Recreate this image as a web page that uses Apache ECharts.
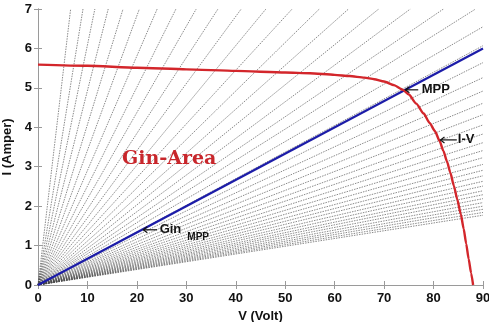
<!DOCTYPE html>
<html>
<head>
<meta charset="utf-8">
<script src="https://cdn.jsdelivr.net/npm/echarts@6/dist/echarts.min.js"></script>
<style>
html, body { margin: 0; padding: 0; background: #fff; }
#chart { width: 489px; height: 322px; }
</style>
</head>
<body>
<div id="chart"></div>
<script>
// PV array I-V curve
var ivVolt = [0, 10, 20, 30, 40, 50, 55, 60, 63, 66, 68, 70, 72, 73.8, 75, 76.5, 78, 79.2, 80.3,
              81.2, 82.0, 82.7, 83.4, 84.1, 84.8, 85.5, 86.1, 86.6, 87.1, 87.6, 88];
var ivAmp  = [5.59, 5.56, 5.51, 5.47, 5.43, 5.39, 5.37, 5.33, 5.30, 5.26, 5.22, 5.16, 5.07, 4.95, 4.83, 4.60, 4.35, 4.11, 3.90,
              3.66, 3.40, 3.14, 2.85, 2.52, 2.17, 1.80, 1.42, 1.05, 0.66, 0.30, 0];

// Gin_MPP line through the MPP
var ginVolt = [0, 90];
var ginAmp  = [0, 6.0];

// dotted conductance rays from the origin
// shallow rays: current where they leave the right edge (V = 90)
var rayRightAmp = [1.77, 1.84, 1.92, 2.00, 2.09, 2.19, 2.29, 2.39, 2.51, 2.63, 2.77, 2.91, 3.06,
                   3.23, 3.41, 3.61, 3.83, 4.06, 4.32, 4.61, 4.92, 5.26, 5.64, 6.07, 6.55];
// steep rays: voltage where they leave the top edge (I = 7)
var rayTopVolt = [88.5, 82.0, 75.3, 68.9, 62.8, 56.9, 51.4, 46.1, 41.1, 36.4, 32.0, 27.9, 24.1,
                  20.5, 17.2, 14.2, 11.5, 9.1, 6.6];

var xMin = 0, xMax = 90, xStep = 10;
var yMin = 0, yMax = 7, yStep = 1;

var chart = echarts.init(document.getElementById('chart'));

var rayStyle = { color: '#4a4a4a', width: 0.65, type: [1.5, 1.1] };
var series = [];
rayRightAmp.forEach(function (a) {
  series.push({ type: 'line', data: [[0, 0], [xMax, a]], showSymbol: false, silent: true,
    lineStyle: rayStyle, z: 1 });
});
rayTopVolt.forEach(function (v) {
  series.push({ type: 'line', data: [[0, 0], [v, yMax]], showSymbol: false, silent: true,
    lineStyle: rayStyle, z: 1 });
});
series.push({
  name: 'Gin', type: 'line', showSymbol: false, silent: true, z: 3,
  data: ginVolt.map(function (v, i) { return [v, ginAmp[i]]; }),
  lineStyle: { color: '#1c1ca8', width: 2.2 }
});
series.push({
  name: 'I-V', type: 'line', showSymbol: false, silent: true, smooth: 0.2, smoothMonotone: 'x', z: 4,
  data: ivVolt.map(function (v, i) { return [v, ivAmp[i]]; }),
  lineStyle: { color: '#d3262b', width: 2.4 }
});

var tickFont = { color: '#111', fontSize: 13, fontWeight: 'bold', fontFamily: 'Liberation Sans' };
var frame = { lineStyle: { color: '#9a9a9a', width: 1 } };
var tick = { inside: true, length: 4, lineStyle: { color: '#9a9a9a' } };

var option = {
  animation: false,
  backgroundColor: '#fff',
  grid: { left: 38, right: 6, top: 9, bottom: 37, containLabel: false, outerBoundsMode: 'none' },
  xAxis: [
    { type: 'value', min: xMin, max: xMax, interval: xStep, axisLine: frame, axisTick: tick,
      splitLine: { show: false }, axisLabel: Object.assign({ margin: 7 }, tickFont),
      name: 'V (Volt)', nameLocation: 'middle', nameGap: 22,
      nameTextStyle: tickFont },
    { type: 'value', position: 'top', min: xMin, max: xMax, interval: xStep, axisLine: frame,
      axisTick: tick, splitLine: { show: false }, axisLabel: { show: false } }
  ],
  yAxis: [
    { type: 'value', min: yMin, max: yMax, interval: yStep, axisLine: frame, axisTick: tick,
      splitLine: { show: false }, axisLabel: Object.assign({ margin: 6 }, tickFont),
      name: 'I (Amper)', nameLocation: 'middle', nameGap: 20,
      nameTextStyle: tickFont },
    { type: 'value', position: 'right', min: yMin, max: yMax, interval: yStep, axisLine: frame,
      axisTick: tick, splitLine: { show: false }, axisLabel: { show: false } }
  ],
  series: series
};
chart.setOption(option);

// annotations placed in data coordinates
function px(v, a) { return chart.convertToPixel({ gridIndex: 0 }, [v, a]); }
function arrow(tip, tail) {
  var p = px(tip[0], tip[1]), q = px(tail[0], tail[1]);
  return [
    { type: 'line', shape: { x1: p[0], y1: p[1], x2: q[0], y2: q[1] },
      style: { stroke: '#111', lineWidth: 1.2 }, z: 10 },
    { type: 'polyline', shape: { points: [[p[0] + 4, p[1] - 3], [p[0], p[1]], [p[0] + 4, p[1] + 3]] },
      style: { stroke: '#111', lineWidth: 1.2, fill: null }, z: 10 }
  ];
}
function label(v, a, txt, size, color, family) {
  var p = px(v, a);
  return { type: 'text', x: p[0], y: p[1], z: 10,
    style: { text: txt, fill: color || '#111', fontSize: size, fontWeight: 'bold',
      fontFamily: family || 'Liberation Sans', verticalAlign: 'middle', align: 'left' } };
}

var g = [];
g = g.concat(arrow([74.3, 4.95], [76.9, 4.95]));
g.push(label(77.6, 4.95, 'MPP', 13));
g = g.concat(arrow([81.4, 3.68], [84.7, 3.68]));
g.push(label(84.9, 3.68, 'I-V', 13));
g = g.concat(arrow([21.3, 1.40], [24.1, 1.40]));
g.push(label(24.6, 1.42, 'Gin', 13));
g.push(label(30.2, 1.2, 'MPP', 10));
g.push(label(17.0, 3.2, 'Gin-Area', 19, '#c8262b', 'DejaVu Serif'));
chart.setOption({ graphic: g });
</script>
</body>
</html>
